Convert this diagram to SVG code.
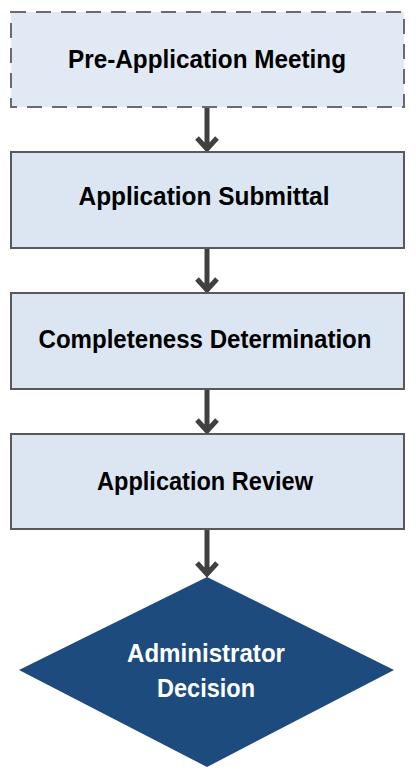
<svg xmlns="http://www.w3.org/2000/svg" width="416" height="778" viewBox="0 0 416 778">
<style>
.box{fill:#dce6f2;stroke:#595959;stroke-width:2}
.dash{fill:#e1e9f4;stroke:#6b6b6b;stroke-width:2;stroke-dasharray:15 10}
.t{font-family:"Liberation Sans",Arial,sans-serif;font-weight:bold;font-size:25.5px;fill:#000;text-anchor:middle}
.w{fill:#fff;font-size:26px}
.c{fill:none;stroke:#404040;stroke-width:5}
</style>
<rect width="416" height="778" fill="#fff"/>
<g id="connectors">
<path class="c" d="M207 108V150M197 138L207 149L217 138"/>
<path class="c" d="M207 249V291M197 279L207 290L217 279"/>
<path class="c" d="M207 390V432M197 420L207 431L217 420"/>
<path class="c" d="M207 530V575M197 563L207 574L217 563"/>
</g>
<g id="n1"><rect class="dash" x="11" y="12" width="393" height="95"/><text class="t" x="207" y="68" textLength="278" lengthAdjust="spacingAndGlyphs">Pre-Application Meeting</text></g>
<g id="n2"><rect class="box" x="11" y="152" width="393" height="96"/><text class="t" x="204" y="205" textLength="251" lengthAdjust="spacingAndGlyphs">Application Submittal</text></g>
<g id="n3"><rect class="box" x="11" y="293" width="393" height="96"/><text class="t" x="205" y="348" textLength="333" lengthAdjust="spacingAndGlyphs">Completeness Determination</text></g>
<g id="n4"><rect class="box" x="11" y="434" width="393" height="95"/><text class="t" x="205" y="490" textLength="216" lengthAdjust="spacingAndGlyphs">Application Review</text></g>
<g id="n5"><polygon points="207,577 394,670 207,767 19,670" fill="#1d4b7e"/><text class="t w" x="206" y="662" textLength="158" lengthAdjust="spacingAndGlyphs">Administrator</text><text class="t w" x="206" y="697" textLength="98" lengthAdjust="spacingAndGlyphs">Decision</text></g>
</svg>
